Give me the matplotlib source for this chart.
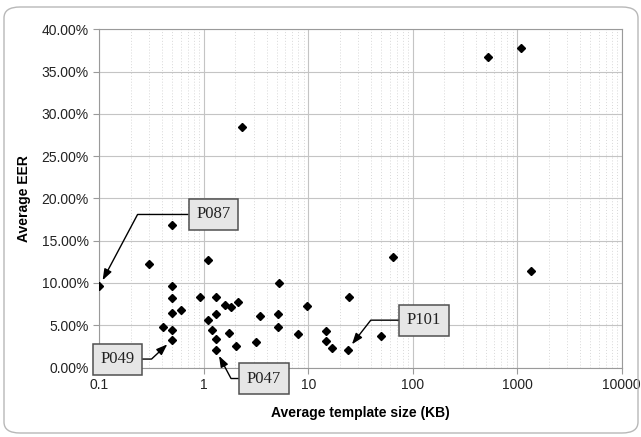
import matplotlib.pyplot as plt
from matplotlib.patches import FancyBboxPatch
from matplotlib.ticker import FuncFormatter, FixedLocator, NullFormatter

# template size (KB) and average EER (%)
template_kb = [0.1, 0.5, 0.30, 1.10, 0.5, 0.5, 0.5, 0.60, 0.41, 0.5, 0.5,
               0.92, 1.30, 1.30, 1.10, 1.21, 1.30, 1.30, 1.61, 1.81, 2.10,
               1.74, 2.01, 3.15, 3.44, 5.26, 5.08, 5.08, 7.94, 9.63, 14.7,
               14.7, 16.9, 24.6, 23.8, 2.30, 521, 1087, 65, 1356, 50]
eer_pct = [9.6, 16.8, 12.3, 12.7, 9.6, 8.2, 6.5, 6.8, 4.8, 4.4, 3.3,
           8.3, 8.3, 6.3, 5.6, 4.4, 3.35, 2.1, 7.45, 7.1, 7.7,
           4.06, 2.5, 2.96, 6.15, 10.0, 6.35, 4.85, 4.0, 7.3, 4.26,
           3.08, 2.33, 8.3, 2.1, 28.4, 36.7, 37.8, 13.05, 11.4, 3.7]

# labelled points: (name, x, y, box x, box y, diagonal angle)
callouts = [
    ("P087", 0.1, 9.6, 1.23, 18.1, 62),
    ("P049", 0.5, 3.3, 0.148, 1.0, 43),
    ("P047", 1.30, 2.1, 3.76, -1.3, 118),
    ("P101", 23.8, 2.1, 128, 5.6, 52),
]

plt.rcParams['font.family'] = ['Liberation Sans', 'DejaVu Sans']

fig = plt.figure(figsize=(6.41, 4.37), dpi=100)
ax = fig.add_axes([0.155, 0.159, 0.815, 0.774])

# rounded frame round the whole chart
frame = FancyBboxPatch((4 / 641, 4 / 437), 634 / 641, 426 / 437,
                       boxstyle="round,pad=0,rounding_size=0.025",
                       transform=fig.transFigure, facecolor='none',
                       edgecolor='#b8b8b8', linewidth=1.0)
fig.patches.append(frame)

ax.plot(template_kb, eer_pct, 'D', color='black', markersize=4.3, zorder=3)

ax.set_xscale('log')
ax.set_xlim(0.1, 10000)
ax.set_ylim(0, 40)
ax.set_yticks(range(0, 41, 5))
ax.yaxis.set_major_formatter(FuncFormatter(lambda v, p: "%.2f%%" % v))
ax.xaxis.set_major_locator(FixedLocator([0.1, 1, 10, 100, 1000, 10000]))
ax.xaxis.set_major_formatter(FuncFormatter(lambda v, p: "%g" % v))
ax.xaxis.set_minor_formatter(NullFormatter())

ax.grid(True, which='major', color='#c4c4c4', linewidth=0.8)
ax.grid(True, which='minor', axis='x', color='#d8d8d8', linewidth=0.7,
        linestyle=(0, (1, 2)))
ax.set_axisbelow(True)

for s in ax.spines.values():
    s.set_color('#9a9a9a')
ax.tick_params(axis='both', which='major', labelsize=10, color='#9a9a9a',
               length=4, labelcolor='#222222')
ax.tick_params(axis='x', which='minor', length=0)

ax.set_xlabel("Average template size (KB)", fontsize=10, fontweight='bold',
              labelpad=10)
ax.set_ylabel("Average EER", fontsize=10, fontweight='bold', labelpad=8)

for name, px, py, tx, ty, ang in callouts:
    ax.annotate(name, xy=(px, py), xytext=(tx, ty), ha='center', va='center',
                fontsize=12, family='Liberation Serif', color='#222222',
                annotation_clip=False,
                bbox=dict(boxstyle='square,pad=0.45', facecolor='#e6e6e6',
                          edgecolor='#505050', linewidth=1.1),
                arrowprops=dict(arrowstyle='-|>,head_length=0.55,head_width=0.2',
                                color='black', linewidth=1, shrinkA=0,
                                shrinkB=5,
                                connectionstyle="angle,angleA=0,angleB=%d,rad=0" % ang))

fig.savefig("out.png", dpi=100)
